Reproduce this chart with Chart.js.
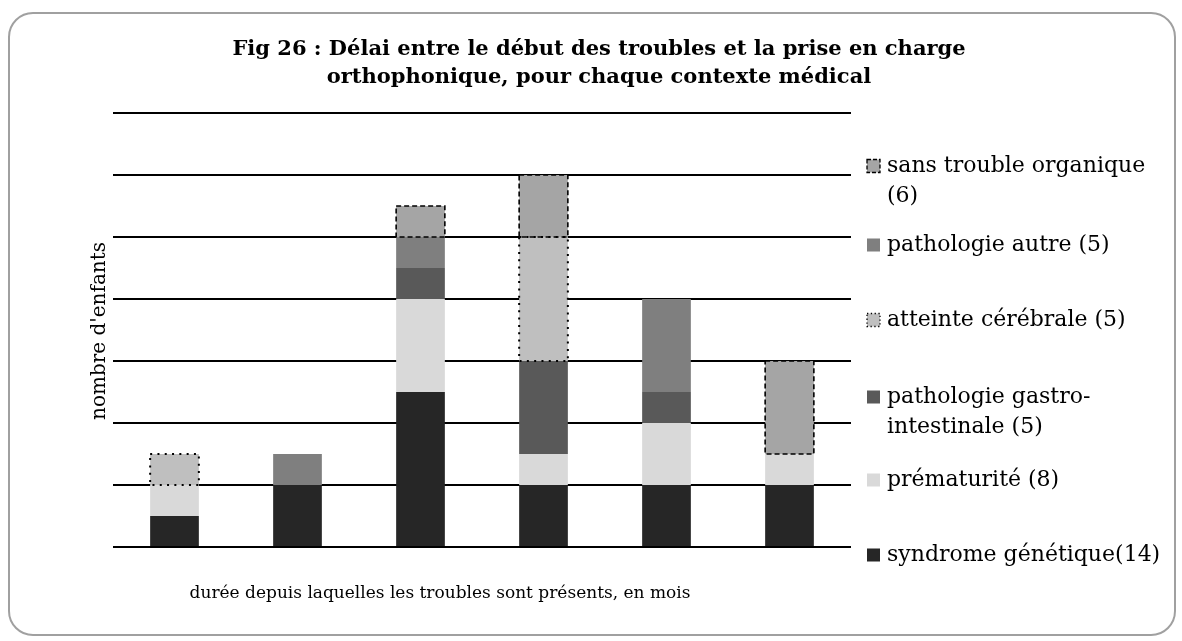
<!DOCTYPE html>
<html>
<head>
<meta charset="utf-8">
<script src="https://cdn.jsdelivr.net/npm/chart.js@4.4.1/dist/chart.umd.min.js"></script>
<style>
  body { margin: 0; background: #fff; }
  #wrap { width: 1182px; height: 641px; }
</style>
</head>
<body>
<div id="wrap"><canvas id="delaiChart" width="1182" height="641"></canvas></div>
<script>
// six duration classes, the picture shows no tick labels for them
const categories = ['1', '2', '3', '4', '5', '6'];

const syndromeGenetique = [1, 2, 5, 2, 2, 2];
const prematurite       = [1, 0, 3, 1, 2, 1];
const pathoGastro       = [0, 0, 1, 3, 1, 0];
const atteinteCerebrale = [1, 0, 0, 4, 0, 0];
const pathoAutre        = [0, 1, 1, 0, 3, 0];
const sansTrouble       = [0, 0, 1, 2, 0, 3];

const yMax = 14;
const yStep = 2;

const titleLines = [
  'Fig 26 : Délai entre le début des troubles et la prise en charge',
  'orthophonique, pour chaque contexte médical'
];
const xTitle = 'durée depuis laquelles les troubles sont présents, en mois';
const yTitle = "nombre d'enfants";

const serif = '"DejaVu Serif", serif';

// frame + background
const framePlugin = {
  id: 'frame',
  beforeDraw(chart) {
    const ctx = chart.ctx;
    ctx.save();
    ctx.fillStyle = '#fff';
    ctx.fillRect(0, 0, chart.width, chart.height);
    ctx.strokeStyle = '#a0a0a0';
    ctx.lineWidth = 2;
    ctx.beginPath();
    ctx.roundRect(9, 13, 1166, 622, 24);
    ctx.stroke();
    ctx.restore();
  }
};

// dashed / dotted outlines on some series
function setOutline(ctx, kind) {
  ctx.strokeStyle = '#000';
  if (kind === 'dashed') {
    ctx.lineWidth = 1.6;
    ctx.setLineDash([5, 3]);
  } else {
    ctx.lineWidth = 2;
    ctx.setLineDash([2, 5.3]);
  }
}

const outlinePlugin = {
  id: 'outlines',
  afterDatasetsDraw(chart) {
    const ctx = chart.ctx;
    chart.data.datasets.forEach((ds, i) => {
      if (!ds.outline) return;
      const meta = chart.getDatasetMeta(i);
      meta.data.forEach((bar, j) => {
        if (!ds.data[j]) return;
        const p = bar.getProps(['x', 'y', 'base', 'width'], true);
        ctx.save();
        setOutline(ctx, ds.outline);
        ctx.strokeRect(p.x - p.width / 2, p.y, p.width, p.base - p.y);
        ctx.restore();
      });
    });
  }
};

const legendY = [555, 480, 397, 320, 245, 166];

const textPlugin = {
  id: 'texts',
  afterDraw(chart) {
    const ctx = chart.ctx;
    ctx.save();
    ctx.fillStyle = '#000';
    ctx.textBaseline = 'middle';

    // title
    ctx.textAlign = 'center';
    ctx.font = 'bold 21px ' + serif;
    titleLines.forEach((t, i) => ctx.fillText(t, 599, 50 + i * 28));

    // axis titles
    ctx.font = '17px ' + serif;
    ctx.fillText(xTitle, 440, 594);
    ctx.save();
    ctx.translate(100, 331);
    ctx.rotate(-Math.PI / 2);
    ctx.font = '20px ' + serif;
    ctx.fillText(yTitle, 0, 0);
    ctx.restore();

    // legend
    ctx.textAlign = 'left';
    ctx.font = '22px ' + serif;
    chart.data.datasets.forEach((ds, i) => {
      const y = legendY[i];
      ctx.fillStyle = ds.backgroundColor;
      ctx.fillRect(867, y - 6.5, 13, 13);
      if (ds.outline) {
        ctx.save();
        setOutline(ctx, ds.outline);
        ctx.lineWidth = 1.3;
        ctx.setLineDash(ds.outline === 'dashed' ? [4, 2] : [1.3, 2.5]);
        ctx.strokeRect(867, y - 6.5, 13, 13);
        ctx.restore();
      }
      ctx.fillStyle = '#000';
      ds.label.split('\n').forEach((line, k) => ctx.fillText(line, 887, y + k * 30));
    });
    ctx.restore();
  }
};

const ctx = document.getElementById('delaiChart').getContext('2d');
const chart = new Chart(ctx, {
  type: 'bar',
  data: {
    labels: categories,
    datasets: [
      { label: 'syndrome génétique(14)', data: syndromeGenetique, backgroundColor: '#262626' },
      { label: 'prématurité (8)', data: prematurite, backgroundColor: '#d9d9d9' },
      { label: 'pathologie gastro-\nintestinale (5)', data: pathoGastro, backgroundColor: '#595959' },
      { label: 'atteinte cérébrale (5)', data: atteinteCerebrale, backgroundColor: '#bfbfbf', outline: 'dotted' },
      { label: 'pathologie autre (5)', data: pathoAutre, backgroundColor: '#7f7f7f' },
      { label: 'sans trouble organique\n(6)', data: sansTrouble, backgroundColor: '#a5a5a5', outline: 'dashed' }
    ]
  },
  options: {
    responsive: false,
    animation: false,
    barPercentage: 0.396,
    categoryPercentage: 1,
    layout: { padding: { left: 113, right: 331, top: 113, bottom: 94 } },
    plugins: {
      legend: { display: false },
      title: { display: false },
      tooltip: { enabled: false }
    },
    scales: {
      x: { stacked: true, display: false },
      y: {
        stacked: true,
        min: 0,
        max: yMax,
        ticks: { display: false, stepSize: yStep },
        grid: { color: '#000', lineWidth: 2, drawTicks: false },
        border: { display: false }
      }
    }
  },
  plugins: [framePlugin, outlinePlugin, textPlugin]
});
</script>
</body>
</html>
